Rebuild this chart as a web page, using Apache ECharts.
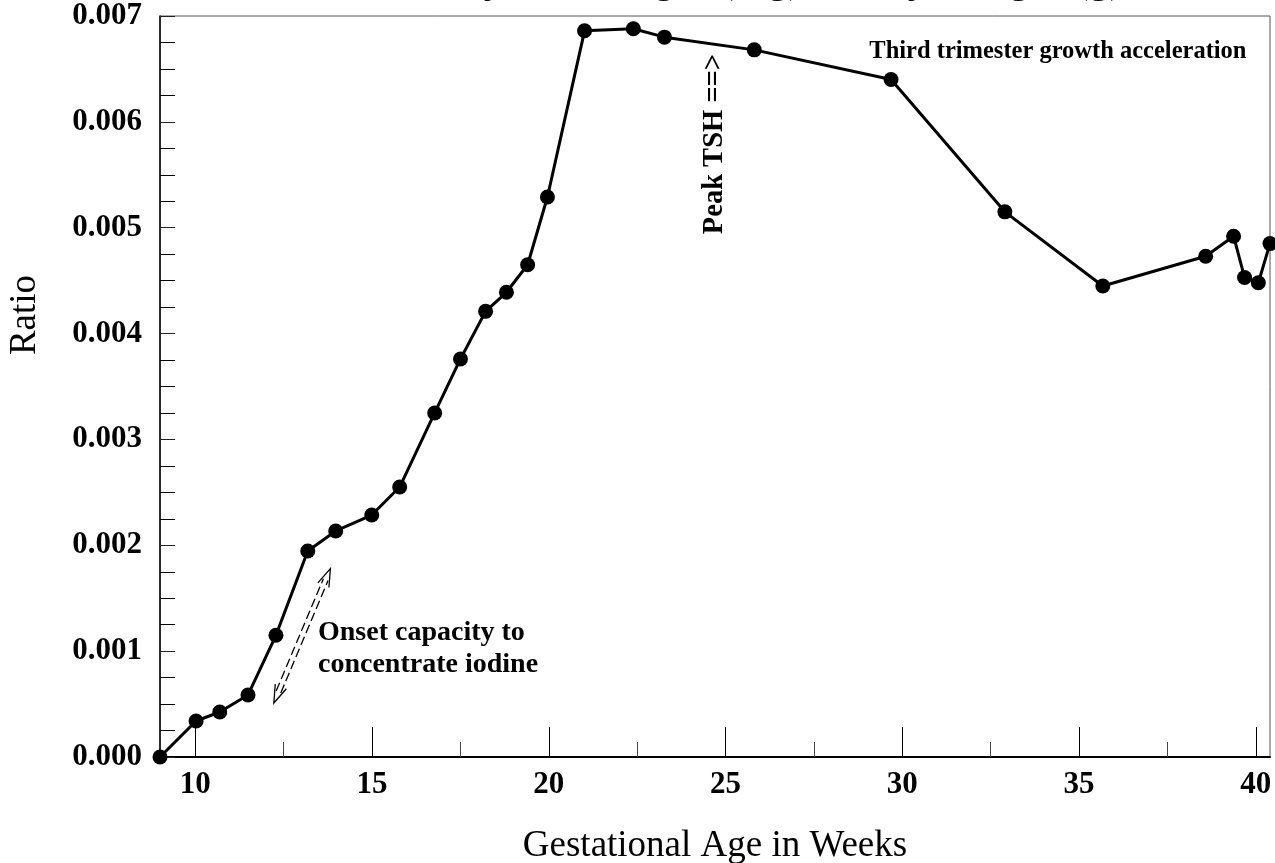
<!DOCTYPE html>
<html>
<head>
<meta charset="utf-8">
<script src="https://cdn.jsdelivr.net/npm/echarts@6/dist/echarts.min.js"></script>
<style>
html,body{margin:0;padding:0;background:#fff;overflow:hidden;}
#c{width:1275px;height:863px;}
</style>
</head>
<body>
<div id="c"></div>
<script>
// ---- data ----
const weeks = [9, 10.02, 10.69, 11.49, 12.28, 13.18, 13.97, 14.99, 15.78, 16.77, 17.50, 18.21, 18.80, 19.40, 19.96, 21.01, 22.39, 23.27, 25.81, 29.68, 32.90, 35.67, 38.58, 39.37, 39.68, 40.07, 40.4];
const ratio = [0, 0.00034, 0.000425, 0.000586, 0.00115, 0.001946, 0.002135, 0.002286, 0.00255, 0.00325, 0.00376, 0.00421, 0.00439, 0.00465, 0.00529, 0.00686, 0.00688, 0.00680, 0.00668, 0.00640, 0.00515, 0.00445, 0.00473, 0.00492, 0.00453, 0.00448, 0.00485];
const xMajorTicks = [10, 15, 20, 25, 30, 35, 40];
const xMinorTicks = [12.5, 17.5, 22.5, 27.5, 32.5, 37.5];
const titleText = 'Thyroid Weight (mg) / Body Weight (g)';
const xName = 'Gestational Age in Weeks';
const yName = 'Ratio';
const noteOnset = 'Onset capacity to\nconcentrate iodine';
const noteThird = 'Third trimester growth acceleration';
const notePeak = 'Peak TSH ==>';

const SERIF = "'Liberation Serif','Times New Roman',serif";
const chart = echarts.init(document.getElementById('c'));
const points = weeks.map((w, i) => [w, ratio[i]]);

const option = {
  animation: false,
  backgroundColor: '#fff',
  grid: {left: 160, right: 5, top: 16, bottom: 106, show: true, borderColor: '#555', borderWidth: 1,
         containLabel: false, outerBoundsMode: 'none'},
  xAxis: [{
    type: 'value', min: 9, max: 40.4,
    axisLine: {show: true, lineStyle: {color: '#000', width: 2}},
    axisTick: {show: true, inside: true, length: 30, customValues: xMajorTicks, lineStyle: {color: '#000', width: 1}},
    axisLabel: {show: true, customValues: xMajorTicks, margin: 12, color: '#000', fontFamily: SERIF, fontWeight: 'bold', fontSize: 31},
    splitLine: {show: false},
    name: xName, nameLocation: 'middle', nameGap: 71,
    nameTextStyle: {color: '#000', fontFamily: SERIF, fontSize: 37}
  }, {
    type: 'value', min: 9, max: 40.4, position: 'bottom',
    axisLine: {show: false},
    axisTick: {show: true, inside: true, length: 15, customValues: xMinorTicks, lineStyle: {color: '#444', width: 1}},
    axisLabel: {show: false},
    splitLine: {show: false}
  }],
  yAxis: {
    type: 'value', min: 0, max: 0.007, interval: 0.001,
    axisLine: {show: true, lineStyle: {color: '#000', width: 1.5}},
    axisTick: {show: true, inside: true, length: 15, lineStyle: {color: '#222', width: 1}},
    minorTick: {show: true, splitNumber: 4, length: 15, lineStyle: {color: '#000', width: 1}},
    axisLabel: {margin: 18, color: '#000', fontFamily: SERIF, fontWeight: 'bold', fontSize: 31, formatter: v => v.toFixed(3)},
    splitLine: {show: false}, minorSplitLine: {show: false}
  },
  series: [{
    type: 'line', xAxisIndex: 0, data: points, clip: false,
    symbol: 'circle', symbolSize: 15, showSymbol: true,
    itemStyle: {color: '#000'},
    lineStyle: {color: '#000', width: 3}
  }]
};
chart.setOption(option);

// ---- annotations ----
const px = (x, y) => chart.convertToPixel({gridIndex: 0}, [x, y]);
const g = [];
g.push({type: 'text', x: 436, y: -19, style: {text: titleText, align: 'left', verticalAlign: 'middle', font: '43px ' + SERIF, fill: '#000'}, z: 100});
g.push({type: 'text', x: 25, y: 315, rotation: Math.PI / 2, style: {text: yName, align: 'center', verticalAlign: 'middle', font: '37px ' + SERIF, fill: '#000'}, z: 100});

const pThird = px(34.4, 0.00666);
g.push({type: 'text', x: pThird[0], y: pThird[1], style: {text: noteThird, align: 'center', verticalAlign: 'middle', font: 'bold 24.5px ' + SERIF, fill: '#000'}, z: 100});

const pOnset = px(13.47, 0.00102);
g.push({type: 'text', x: pOnset[0], y: pOnset[1], style: {text: noteOnset, align: 'left', verticalAlign: 'middle', lineHeight: 32, font: 'bold 28px ' + SERIF, fill: '#000'}, z: 100});

const pPeak = px(24.7, 0.00579);
g.push({type: 'text', x: pPeak[0], y: pPeak[1], rotation: Math.PI / 2, style: {text: notePeak, align: 'center', verticalAlign: 'middle', font: 'bold 28.5px ' + SERIF, fill: '#000'}, z: 100});

// double dashed, double-headed arrow
const a = px(12.22, 0.00051), b = px(13.82, 0.00178);
const dx = b[0] - a[0], dy = b[1] - a[1], L = Math.hypot(dx, dy);
const ux = dx / L, uy = dy / L, nx = -uy, ny = ux;
const off = 2.5, head = 18, hw = 6;
[-1, 1].forEach(s => {
  g.push({type: 'line', shape: {x1: a[0] + ux * 12 + nx * off * s, y1: a[1] + uy * 12 + ny * off * s, x2: b[0] - ux * 12 + nx * off * s, y2: b[1] - uy * 12 + ny * off * s},
    style: {stroke: '#000', lineWidth: 1.3, lineDash: [9, 4]}, z: 100});
});
[[a, 1], [b, -1]].forEach(([t, s]) => {
  g.push({type: 'polyline', shape: {points: [
    [t[0] + ux * head * s + nx * hw, t[1] + uy * head * s + ny * hw],
    [t[0], t[1]],
    [t[0] + ux * head * s - nx * hw, t[1] + uy * head * s - ny * hw]]},
    style: {stroke: '#000', lineWidth: 1.3, fill: null}, z: 100});
});
chart.setOption({graphic: g});
</script>
</body>
</html>
